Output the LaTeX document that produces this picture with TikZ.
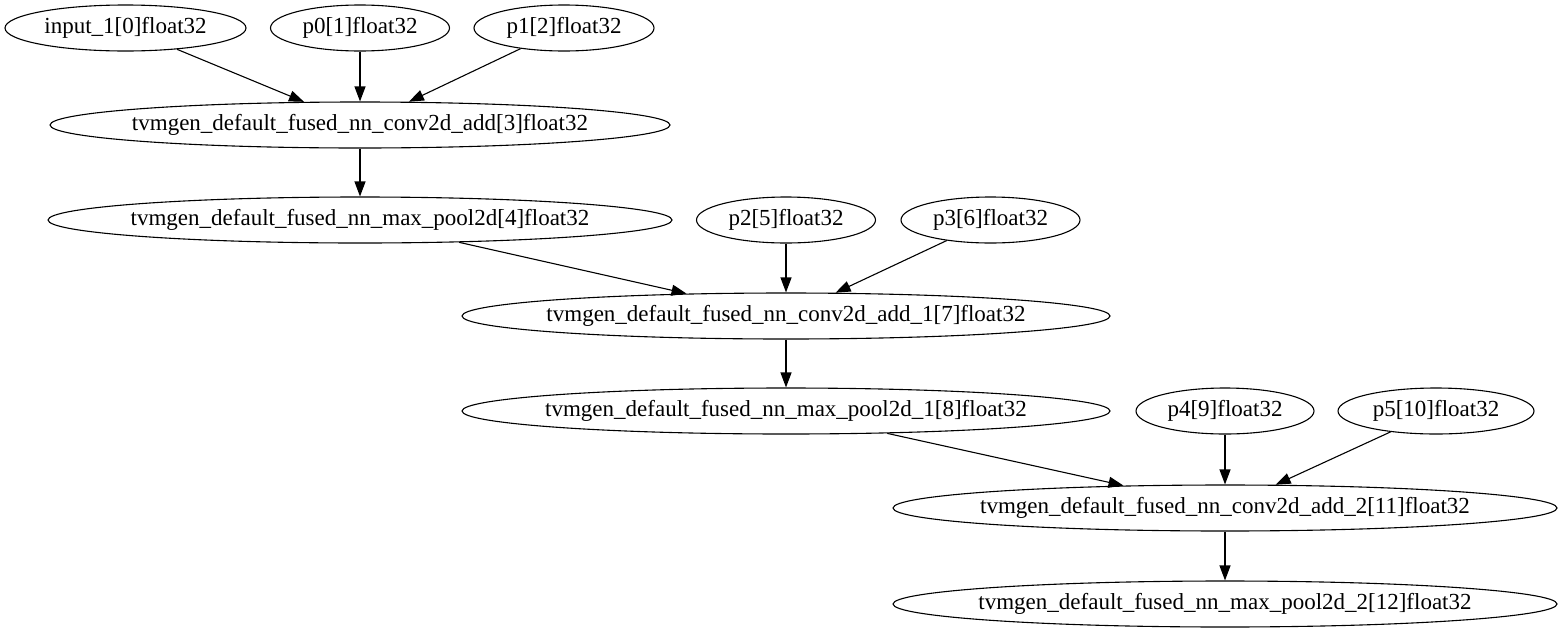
\documentclass[tikz,border=0pt]{standalone}
\usepackage{fontspec}
\setmainfont{Liberation Serif}
\usetikzlibrary{shapes.geometric,arrows.meta}
% label set in a zero-width box, so the ellipse takes its size from the style only
\newcommand\opname[1]{\makebox[0pt]{#1}}
\begin{document}
\begin{tikzpicture}[x=1pt,y=-1pt,
  op/.style={draw, ellipse, line width=1.1pt, inner sep=0pt,
    minimum height=46pt, font=\fontsize{23}{27}\selectfont},
  flow/.style={line width=1.1pt, -{Triangle[length=15pt,width=11pt]}}]
\useasboundingbox (0,0) rectangle (1562,635);
% rank 1: inputs and weights
\node[op, minimum width=241pt] (in0) at (125.5,28) {\opname{input\_1[0]float32}};
\node[op, minimum width=179pt] (p0) at (360,28) {\opname{p0[1]float32}};
\node[op, minimum width=180pt] (p1) at (564,28) {\opname{p1[2]float32}};
% first conv / pool block
\node[op, minimum width=620pt] (conv0) at (360,125) {\opname{tvmgen\_default\_fused\_nn\_conv2d\_add[3]float32}};
\node[op, minimum width=624pt] (pool0) at (360,220) {\opname{tvmgen\_default\_fused\_nn\_max\_pool2d[4]float32}};
\node[op, minimum width=179pt] (p2) at (786,220) {\opname{p2[5]float32}};
\node[op, minimum width=179pt] (p3) at (990.5,220) {\opname{p3[6]float32}};
% second conv / pool block
\node[op, minimum width=648pt] (conv1) at (786,316) {\opname{tvmgen\_default\_fused\_nn\_conv2d\_add\_1[7]float32}};
\node[op, minimum width=648pt] (pool1) at (786,411) {\opname{tvmgen\_default\_fused\_nn\_max\_pool2d\_1[8]float32}};
\node[op, minimum width=178pt] (p4) at (1225,411) {\opname{p4[9]float32}};
\node[op, minimum width=196pt] (p5) at (1436,411) {\opname{p5[10]float32}};
% third conv / pool block
\node[op, minimum width=664pt] (conv2) at (1225,508) {\opname{tvmgen\_default\_fused\_nn\_conv2d\_add\_2[11]float32}};
\node[op, minimum width=664pt] (pool2) at (1225,604) {\opname{tvmgen\_default\_fused\_nn\_max\_pool2d\_2[12]float32}};
% data flow
\draw[flow] (in0) -- (conv0);
\draw[flow] (p0) -- (conv0);
\draw[flow] (p1) -- (conv0);
\draw[flow] (conv0) -- (pool0);
\draw[flow] (pool0) -- (conv1);
\draw[flow] (p2) -- (conv1);
\draw[flow] (p3) -- (conv1);
\draw[flow] (conv1) -- (pool1);
\draw[flow] (pool1) -- (conv2);
\draw[flow] (p4) -- (conv2);
\draw[flow] (p5) -- (conv2);
\draw[flow] (conv2) -- (pool2);
\end{tikzpicture}
\end{document}
